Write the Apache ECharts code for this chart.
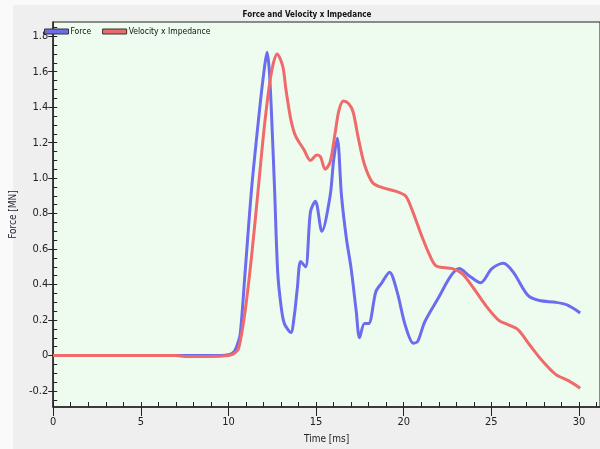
<!DOCTYPE html>
<html>
<head>
<meta charset="utf-8">
<script src="https://cdn.jsdelivr.net/npm/echarts@6/dist/echarts.min.js"></script>
<style>
  html, body { margin: 0; padding: 0; background: #fafafa; }
  #frame { position: absolute; left: 13px; top: 5px; right: 0; bottom: 0; background: #efefef; }
  #chart { position: absolute; left: 0; top: 0; width: 600px; height: 449px; }
</style>
</head>
<body>
<div id="frame"></div>
<div id="chart"></div>
<script>
// Time axis samples (ms) and measured signals (MN)
var forceTime = [0, 2, 4, 6, 8, 9, 10, 10.3, 10.5, 10.67, 10.95, 11.32, 11.79, 12.05, 12.2, 12.32, 12.44, 12.63, 12.81, 13.0, 13.19, 13.56, 13.75, 13.93, 14.12, 14.4, 14.68, 14.96, 15.33, 15.8, 16.0, 16.21, 16.45, 16.73, 17.0, 17.29, 17.48, 17.76, 18.0, 18.41, 18.75, 19.19, 19.62, 20.09, 20.55, 20.8, 21.2, 21.95, 22.7, 23.17, 23.73, 24.38, 25.03, 25.69, 26.25, 27.08, 27.74, 28.67, 29.32, 30.07];
var forceValues = [0, 0, 0, 0, 0, 0, 0.005, 0.02, 0.06, 0.12, 0.47, 0.94, 1.40, 1.62, 1.71, 1.62, 1.40, 0.94, 0.47, 0.28, 0.18, 0.13, 0.22, 0.38, 0.53, 0.50, 0.81, 0.87, 0.70, 0.90, 1.10, 1.225, 0.90, 0.66, 0.49, 0.25, 0.10, 0.18, 0.18, 0.36, 0.41, 0.47, 0.36, 0.17, 0.07, 0.08, 0.19, 0.32, 0.45, 0.49, 0.45, 0.41, 0.49, 0.52, 0.47, 0.34, 0.31, 0.30, 0.285, 0.24];

var velTime = [0, 5, 7, 7.5, 9, 10, 10.3, 10.58, 10.95, 11.32, 11.7, 12.07, 12.44, 12.78, 13.1, 13.28, 13.56, 13.84, 14.31, 14.68, 15.05, 15.25, 15.52, 15.8, 16.08, 16.3, 16.55, 16.85, 17.11, 17.39, 17.76, 18.23, 18.79, 19.53, 20.1, 20.46, 21.02, 21.49, 21.86, 22.79, 23.35, 24.0, 24.66, 25.41, 25.97, 26.53, 27.18, 27.92, 28.67, 29.42, 30.07];
var velValues = [0, 0, 0, -0.005, -0.005, 0, 0.01, 0.04, 0.25, 0.56, 0.94, 1.31, 1.59, 1.70, 1.63, 1.50, 1.33, 1.235, 1.16, 1.10, 1.13, 1.12, 1.05, 1.09, 1.25, 1.38, 1.435, 1.42, 1.374, 1.235, 1.077, 0.974, 0.946, 0.927, 0.90, 0.825, 0.676, 0.564, 0.505, 0.49, 0.46, 0.378, 0.285, 0.20, 0.173, 0.145, 0.061, -0.031, -0.106, -0.143, -0.184];

var xMajorTicks = [0, 5, 10, 15, 20, 25, 30];
var yMajorTicks = [-0.2, 0, 0.2, 0.4, 0.6, 0.8, 1.0, 1.2, 1.4, 1.6, 1.8];

var seriesNames = ['Force', 'Velocity x Impedance'];
var chartTitle = 'Force and Velocity x Impedance';

function pairs(xs, ys) {
  return xs.map(function (x, i) { return [x, ys[i]]; });
}
var xMinorTicks = [];
for (var i = 0; i <= 31; i++) xMinorTicks.push(i);
var yMinorTicks = [];
for (var k = -5; k <= 37; k++) yMinorTicks.push(Math.round(k * 5) / 100);

var FONT = '"Liberation Sans Narrow", "DejaVu Sans Condensed", sans-serif';
var X_MIN = 0, X_MAX = 31.2, Y_MIN = -0.29, Y_MAX = 1.88;

var chart = echarts.init(document.getElementById('chart'), null, { renderer: 'canvas' });
chart.setOption({
  backgroundColor: 'transparent',
  animation: false,
  graphic: [{
    type: 'text',
    x: 307, y: 15,
    style: {
      text: chartTitle,
      textAlign: 'center',
      textVerticalAlign: 'middle',
      font: 'bold 8px ' + FONT,
      fill: '#111'
    }
  }],
  legend: {
    left: 44, top: 27, padding: 0,
    itemWidth: 24, itemHeight: 5, itemGap: 11,
    icon: 'rect',
    itemStyle: { borderColor: '#333', borderWidth: 1 },
    textStyle: { fontFamily: FONT, fontSize: 8.5, color: '#111', padding: [0, 0, 0, -3] },
    data: seriesNames
  },
  grid: {
    left: 41, right: 0, top: 22, bottom: 40,
    show: true, backgroundColor: '#eefcef',
    borderColor: '#222', borderWidth: 1
  },
  xAxis: [{
    type: 'value', min: X_MIN, max: X_MAX,
    name: 'Time [ms]', nameLocation: 'middle', nameGap: 27,
    nameTextStyle: { fontFamily: FONT, fontSize: 10, color: '#222' },
    axisLine: { show: true, onZero: false, lineStyle: { color: '#222', width: 1.5 } },
    axisTick: { show: true, inside: false, length: 9, customValues: xMajorTicks, lineStyle: { color: '#222' } },
    axisLabel: { show: true, customValues: xMajorTicks, margin: 10, fontFamily: FONT, fontSize: 11, color: '#222' },
    splitLine: { show: false }
  }, {
    type: 'value', min: X_MIN, max: X_MAX, position: 'bottom',
    axisLine: { show: false, onZero: false },
    axisTick: { show: true, inside: true, length: 5, customValues: xMinorTicks, lineStyle: { color: '#222' } },
    axisLabel: { show: false },
    splitLine: { show: false }
  }],
  yAxis: [{
    type: 'value', min: Y_MIN, max: Y_MAX,
    name: 'Force [MN]', nameLocation: 'middle', nameGap: 18,
    nameTextStyle: { fontFamily: FONT, fontSize: 10, color: '#223' },
    axisLine: { show: true, onZero: false, lineStyle: { color: '#222', width: 1.5 } },
    axisTick: { show: true, inside: false, length: 5, customValues: yMajorTicks, lineStyle: { color: '#222' } },
    axisLabel: {
      show: true, customValues: yMajorTicks, margin: 5,
      fontFamily: FONT, fontSize: 11, color: '#222',
      formatter: function (v) { return Math.abs(v) < 1e-9 ? '0' : v.toFixed(1); }
    },
    splitLine: { show: false }
  }, {
    type: 'value', min: Y_MIN, max: Y_MAX, position: 'left',
    axisLine: { show: false, onZero: false },
    axisTick: { show: true, inside: true, length: 4, customValues: yMinorTicks, lineStyle: { color: '#222' } },
    axisLabel: { show: false },
    splitLine: { show: false }
  }],
  series: [{
    name: seriesNames[0], type: 'line',
    xAxisIndex: 0, yAxisIndex: 0,
    data: pairs(forceTime, forceValues),
    showSymbol: false, smooth: 0.3,
    color: '#6c6cee',
    lineStyle: { color: '#6c6cee', width: 3 }
  }, {
    name: seriesNames[1], type: 'line',
    xAxisIndex: 0, yAxisIndex: 0,
    data: pairs(velTime, velValues),
    showSymbol: false, smooth: 0.3,
    color: '#ef6a6a',
    lineStyle: { color: '#ef6a6a', width: 3 }
  }]
});
</script>
</body>
</html>
